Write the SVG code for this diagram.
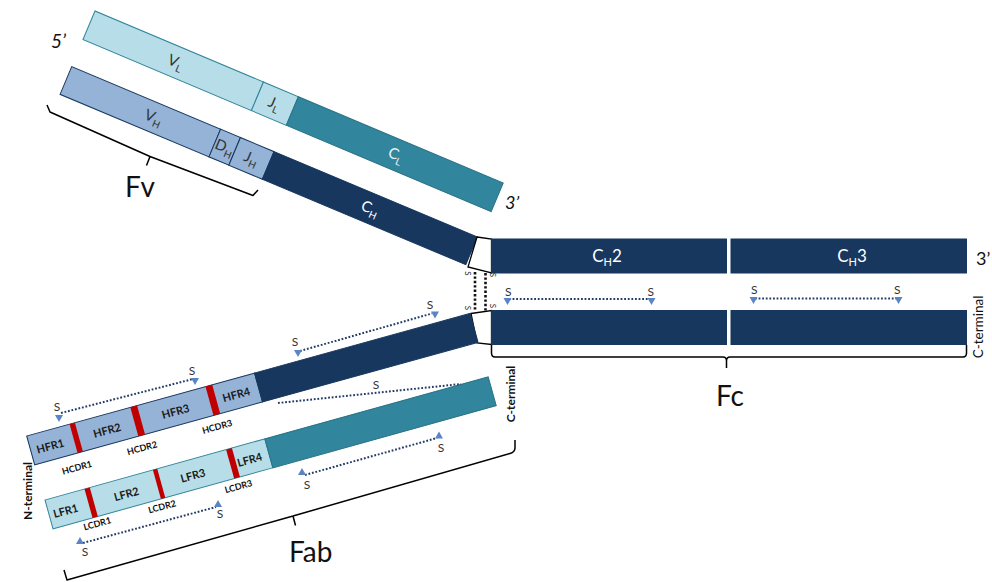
<svg xmlns="http://www.w3.org/2000/svg" xmlns:xlink="http://www.w3.org/1999/xlink" width="992" height="582" viewBox="0 0 992 582">
<style>
text{font-family:Lato,"Liberation Sans",sans-serif}
.lc{fill:#B7DEE8;stroke:#31859C;stroke-width:1}
.cl{fill:#31859C;stroke:#2A7387;stroke-width:1}
.vh{fill:#95B3D7;stroke:#17375E;stroke-width:1}
.ch{fill:#17375E;stroke:#17375E;stroke-width:1}
.cdr{fill:#C00000}
.hinge{fill:#fff;stroke:#000;stroke-width:1.3}
.dot{stroke:#243B66;stroke-width:2;stroke-dasharray:1.8 1.8;fill:none}
.hdot{stroke:#111;stroke-width:2.6;stroke-dasharray:2.4 2;fill:none}
.arr{fill:#5B84C4}
.brace{fill:none;stroke:#000;stroke-width:1.5;stroke-linejoin:round}
.s{font-size:12px;fill:#333;text-anchor:middle}
.hs{font-size:8px;fill:#222;text-anchor:middle}
.dom{font-size:15px;text-anchor:middle}
.sub{font-size:10px}
.fr{font-size:11px;font-weight:bold;fill:#1a1a1a;text-anchor:middle}
.cdrl{font-size:9px;font-weight:bold;fill:#111;text-anchor:middle}
.big{font-size:28px;fill:#111}
</style>
<defs>
<path id="td" d="M-4,-7 L4,-7 L0,0 Z"/>
<path id="tu" d="M-4,7 L4,7 L0,0 Z"/>
</defs>

<g id="light-chain-top" transform="translate(95,11) rotate(22.86)">
<rect class="lc" x="0" y="0" width="182.8" height="31"/>
<rect class="lc" x="182.8" y="0" width="37.9" height="31"/>
<rect class="cl" x="220.7" y="0" width="222.3" height="31"/>
<text class="dom" x="94" y="20.5" fill="#333">V<tspan class="sub" dy="4">L</tspan></text>
<text class="dom" x="201" y="20.5" fill="#333">J<tspan class="sub" dy="4">L</tspan></text>
<text class="dom" x="333" y="20.5" fill="#E6F2F6">C<tspan class="sub" dy="4">L</tspan></text>
</g>

<g id="heavy-chain-top" transform="translate(71.7,66.7) rotate(22.77)">
<rect class="vh" x="0" y="0" width="161.5" height="30"/>
<rect class="vh" x="161.5" y="0" width="21.5" height="30"/>
<rect class="vh" x="183" y="0" width="36.4" height="30"/>
<rect class="ch" x="219.4" y="0" width="220.6" height="30"/>
<text class="dom" x="95" y="20" fill="#333">V<tspan class="sub" dy="4">H</tspan></text>
<text class="dom" x="172" y="20" fill="#333">D<tspan class="sub" dy="4">H</tspan></text>
<text class="dom" x="201" y="20" fill="#333">J<tspan class="sub" dy="4">H</tspan></text>
<text class="dom" x="330" y="20" fill="#fff">C<tspan class="sub" dy="4">H</tspan></text>
</g>

<g id="hinge">
<polygon class="hinge" points="477,237 491.5,239 491.5,273 468,267"/>
<polygon class="hinge" points="471,313.5 491.5,310.5 491.5,344.5 477,343"/>
</g>

<g id="fc-ch2-top">
<rect class="ch" x="491.5" y="239" width="235" height="34"/>
<text x="607" y="262" font-size="17" fill="#fff" text-anchor="middle">C<tspan font-size="11" dy="4">H</tspan><tspan dy="-4">2</tspan></text>
</g>
<g id="fc-ch3-top">
<rect class="ch" x="731" y="239" width="235.5" height="34"/>
<text x="852" y="262" font-size="17" fill="#fff" text-anchor="middle">C<tspan font-size="11" dy="4">H</tspan><tspan dy="-4">3</tspan></text>
</g>
<g id="fc-ch2-bottom"><rect class="ch" x="491.5" y="310.5" width="235" height="34"/></g>
<g id="fc-ch3-bottom"><rect class="ch" x="731" y="310.5" width="235.5" height="34"/></g>

<g id="heavy-chain-bottom" transform="translate(26.7,436) rotate(-15.45)">
<rect class="vh" x="0" y="0" width="236.4" height="30"/>
<rect class="ch" x="236.4" y="0" width="223.6" height="30"/>
<rect class="cdr" x="44.5" y="0" width="5.5" height="30"/>
<rect class="cdr" x="107.5" y="0" width="7" height="30"/>
<rect class="cdr" x="185.5" y="0" width="7" height="30"/>
<text class="fr" x="20" y="20">HFR1</text>
<text class="fr" x="79" y="20">HFR2</text>
<text class="fr" x="150" y="20">HFR3</text>
<text class="fr" x="213" y="20">HFR4</text>
<text class="cdrl" x="40" y="47">HCDR1</text>
<text class="cdrl" x="108" y="45.5">HCDR2</text>
<text class="cdrl" x="186" y="45">HCDR3</text>
</g>

<g id="light-chain-bottom" transform="translate(45,500) rotate(-15.54)">
<rect class="lc" x="0" y="0" width="228.2" height="30"/>
<rect class="cl" x="228.2" y="0" width="231.8" height="30"/>
<rect class="cdr" x="41" y="0" width="5.5" height="30"/>
<rect class="cdr" x="112" y="0" width="4.5" height="30"/>
<rect class="cdr" x="188" y="0" width="6" height="30"/>
<text class="fr" x="17" y="20">LFR1</text>
<text class="fr" x="80" y="20">LFR2</text>
<text class="fr" x="149" y="20">LFR3</text>
<text class="fr" x="208" y="20">LFR4</text>
<text class="cdrl" x="44" y="40">LCDR1</text>
<text class="cdrl" x="111" y="41">LCDR2</text>
<text class="cdrl" x="190" y="42">LCDR3</text>
</g>

<g id="connectors">
<line class="dot" x1="61" y1="413" x2="193" y2="379"/>
<use href="#td" x="59" y="422" class="arr"/>
<use href="#td" x="195" y="385" class="arr"/>
<line class="dot" x1="300" y1="351" x2="432" y2="313.5"/>
<use href="#td" x="298" y="357" class="arr"/>
<use href="#td" x="435" y="318.5" class="arr"/>
<line class="dot" x1="278" y1="403" x2="461" y2="384"/>
<line class="dot" x1="305" y1="475" x2="437" y2="438"/>
<use href="#tu" x="302" y="468" class="arr"/>
<use href="#tu" x="439" y="431.5" class="arr"/>
<line class="dot" x1="83" y1="543" x2="216" y2="507"/>
<use href="#tu" x="80" y="537" class="arr"/>
<use href="#tu" x="218" y="500" class="arr"/>
<line class="dot" x1="509" y1="299" x2="651" y2="299"/>
<use href="#td" x="507.5" y="305" class="arr"/>
<use href="#td" x="651.5" y="305" class="arr"/>
<line class="dot" x1="755" y1="298.5" x2="897" y2="298.5"/>
<use href="#td" x="753.5" y="304" class="arr"/>
<use href="#td" x="898.5" y="304" class="arr"/>
<line class="hdot" x1="475" y1="272" x2="475" y2="311"/>
<line class="hdot" x1="485.5" y1="273" x2="485.5" y2="311"/>
</g>

<g id="s-labels">
<text class="s" x="57" y="411">S</text>
<text class="s" x="192" y="375">S</text>
<text class="s" x="295" y="346">S</text>
<text class="s" x="430" y="309">S</text>
<text class="s" x="376" y="389">S</text>
<text class="s" x="307" y="489">S</text>
<text class="s" x="441" y="452">S</text>
<text class="s" x="85" y="556">S</text>
<text class="s" x="220" y="518">S</text>
<text class="s" x="508.3" y="295.5">S</text>
<text class="s" x="650.7" y="295.5">S</text>
<text class="s" x="754.3" y="294">S</text>
<text class="s" x="897.3" y="294">S</text>
<text class="hs" transform="translate(465,273.5) rotate(90)">S</text>
<text class="hs" transform="translate(490,275) rotate(90)">S</text>
<text class="hs" transform="translate(465,308) rotate(90)">S</text>
<text class="hs" transform="translate(490,306) rotate(90)">S</text>
</g>

<g id="braces">
<path class="brace" d="M47,105 L50,112 L150,156.5 L146.5,165.5 M150,156.5 L253,195.5 L258,190"/>
<path class="brace" d="M64,570 L67,580 L293,516 L295.5,525.5 M293,516 L510,453.5 Q515,452 515,448 L515,440"/>
<path class="brace" d="M491.5,345 L491.5,353 Q491.5,357 495,357 L723,357 Q726.5,357 726.5,361 L726.5,368 M726.5,361 Q726.5,357 730,357 L963,357 Q966.5,357 966.5,353 L966.5,345"/>
</g>

<g id="labels">
<text class="big" x="125" y="197">Fv</text>
<text class="big" x="289" y="562">Fab</text>
<text class="big" x="716" y="406">Fc</text>
<text x="51" y="48" font-size="19" font-style="italic" fill="#111">5’</text>
<text x="505" y="209" font-size="18" font-style="italic" fill="#111">3’</text>
<text x="976" y="265" font-size="18" fill="#111">3’</text>
<text transform="translate(32,491) rotate(-90)" font-size="12" font-weight="bold" text-anchor="middle" fill="#111">N-terminal</text>
<text transform="translate(514.5,394) rotate(-90)" font-size="12" font-weight="bold" text-anchor="middle" fill="#111">C-terminal</text>
<text transform="translate(983,327) rotate(-90)" font-size="13.5" text-anchor="middle" fill="#111">C-terminal</text>
</g>
</svg>
